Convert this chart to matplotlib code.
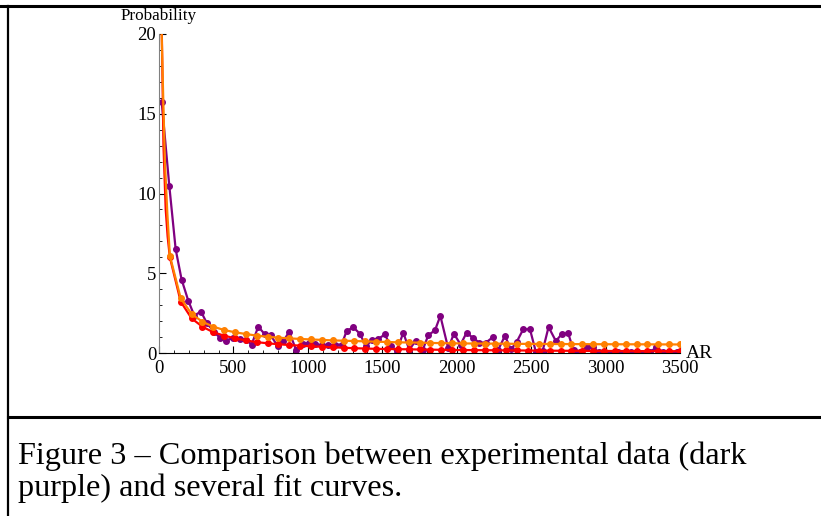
import matplotlib
matplotlib.use("Agg")
import matplotlib.pyplot as plt
from matplotlib.lines import Line2D
from matplotlib.ticker import MultipleLocator

plt.rcParams["font.family"] = ["Liberation Serif", "DejaVu Serif"]

data_x = [18, 69, 112, 152, 197, 237, 282, 320, 369, 410, 450, 499, 544, 584,
          622, 667, 712, 752, 797, 835, 875, 920, 965, 1010, 1048, 1092, 1137,
          1182, 1227, 1260, 1305, 1350, 1390, 1433, 1473, 1518, 1556, 1596,
          1641, 1681, 1726, 1771, 1809, 1854, 1890, 1943, 1981, 2026, 2066,
          2111, 2151, 2196, 2241, 2279, 2324, 2364, 2402, 2447, 2492, 2532,
          2577, 2617, 2666, 2706, 2749, 2785, 2827, 2872, 2914, 2957, 3000,
          3042, 3085, 3127, 3170, 3212, 3255, 3297, 3342, 3387, 3430, 3480]
data_y = [15.75, 10.5, 6.5, 4.6, 3.27, 2.35, 2.6, 1.9, 1.33, 0.95, 0.78, 0.95,
          0.9, 0.84, 0.53, 1.65, 1.16, 1.1, 0.42, 0.74, 1.33, 0.21, 0.57, 0.63,
          0.57, 0.49, 0.49, 0.53, 0.53, 1.37, 1.62, 1.2, 0.42, 0.84, 0.89, 1.16,
          0.42, 0.1, 1.27, 0.21, 0.78, 0.17, 1.12, 1.42, 2.33, 0.29, 1.21, 0.53,
          1.27, 0.94, 0.65, 0.65, 0.98, 0.2, 1.08, 0.22, 0.68, 1.49, 1.49, 0.06,
          0.12, 1.63, 0.75, 1.19, 1.23, 0.17, 0.05, 0.35, 0.35, 0.04, 0.02,
          0.03, 0.05, 0.02, 0.04, 0.03, 0.02, 0.05, 0.36, 0.04, 0.02, 0.04]

# fit curves, sampled where the markers sit
fit_x = [72.9, 145.8, 218.8, 291.7, 364.6, 437.5, 510.4, 583.3, 656.3, 729.2,
         802.1, 875.0, 947.9, 1020.8, 1093.8, 1166.7, 1239.6, 1312.5, 1385.4,
         1458.3, 1531.3, 1604.2, 1677.1, 1750.0, 1822.9, 1895.8, 1968.8,
         2041.7, 2114.6, 2187.5, 2260.4, 2333.3, 2406.3, 2479.2, 2552.1,
         2625.0, 2697.9, 2770.8, 2843.8, 2916.7, 2989.6, 3062.5, 3135.4,
         3208.3, 3281.3, 3354.2, 3427.1, 3500.0]
orange_y = [6.1, 3.43, 2.45, 1.96, 1.65, 1.44, 1.3, 1.19, 1.09, 1.02, 0.96,
            0.92, 0.88, 0.85, 0.82, 0.79, 0.77, 0.75, 0.73, 0.71, 0.69, 0.67,
            0.66, 0.65, 0.63, 0.62, 0.61, 0.6, 0.595, 0.59, 0.585, 0.58, 0.575,
            0.57, 0.567, 0.564, 0.561, 0.558, 0.555, 0.552, 0.55, 0.548, 0.546,
            0.544, 0.542, 0.54, 0.537, 0.535]
red_y = [6.0, 3.22, 2.17, 1.65, 1.3, 1.09, 0.92, 0.79, 0.68, 0.61, 0.55, 0.5,
         0.46, 0.42, 0.39, 0.36, 0.33, 0.3, 0.28, 0.26, 0.25, 0.24, 0.23, 0.22,
         0.21, 0.2, 0.19, 0.185, 0.18, 0.175, 0.17, 0.165, 0.16, 0.155, 0.15,
         0.145, 0.14, 0.137, 0.134, 0.131, 0.128, 0.125, 0.122, 0.12, 0.118,
         0.116, 0.114, 0.112]

# steep start of the fitted curves, above the first marker
orange_head_x = [18, 29, 40, 56]
orange_head_y = [20, 15.75, 11.9, 8.76]
red_head_x = [19, 30, 45, 58]
red_head_y = [20, 13.0, 9.0, 7.3]

purple = (0.5, 0.0, 0.5)
red = (1.0, 0.0, 0.0)
orange = (1.0, 0.5, 0.0)

fig = plt.figure(figsize=(8.21, 5.16), dpi=100)
ax = fig.add_axes([159 / 821, 1 - 353 / 516, 521 / 821, 319 / 516])

ax.plot(data_x, data_y, color=purple, lw=1.6, marker="o", ms=4)
ax.plot(red_head_x + fit_x, red_head_y + red_y, color=red, lw=1.6)
ax.plot(fit_x, red_y, ls="none", marker="o", ms=4, color=red)
ax.plot(orange_head_x + fit_x, orange_head_y + orange_y, color=orange, lw=1.6)
ax.plot(fit_x, orange_y, ls="none", marker="o", ms=4, color=orange)

ax.set_xlim(0, 3500)
ax.set_ylim(0, 20)
for s in ("top", "right"):
    ax.spines[s].set_visible(False)
ax.spines["left"].set_color("#808080")
ax.spines["bottom"].set_color("black")
ax.xaxis.set_major_locator(MultipleLocator(500))
ax.xaxis.set_minor_locator(MultipleLocator(100))
ax.yaxis.set_major_locator(MultipleLocator(5))
ax.yaxis.set_minor_locator(MultipleLocator(1))
ax.tick_params(which="both", direction="in", labelsize=13.5)
ax.tick_params(axis="x", pad=5)
ax.tick_params(axis="y", pad=2)
ax.tick_params(which="major", length=5)
ax.tick_params(which="minor", length=2.5)

ax.text(0, 20.65, "Probability", ha="center", va="bottom", fontsize=12.3,
        clip_on=False)
ax.text(3540, -0.05, "AR", ha="left", va="center", fontsize=14, clip_on=False)

# frame round the figure and the caption
fig.add_artist(Line2D([0, 1], [1 - 6 / 516, 1 - 6 / 516], color="black", lw=2.2))
fig.add_artist(Line2D([8 / 821, 8 / 821], [0, 1 - 6 / 516], color="black", lw=1.6))
fig.add_artist(Line2D([8 / 821, 1], [1 - 416.5 / 516, 1 - 416.5 / 516],
                      color="black", lw=2.2))

fig.text(18 / 821, 1 - 464 / 516, "Figure 3 \u2013 Comparison between experimental data (dark",
         fontsize=23.2, va="baseline", ha="left")
fig.text(18 / 821, 1 - 496 / 516, "purple) and several fit curves.",
         fontsize=23.2, va="baseline", ha="left")

fig.savefig("out.png", dpi=100)
